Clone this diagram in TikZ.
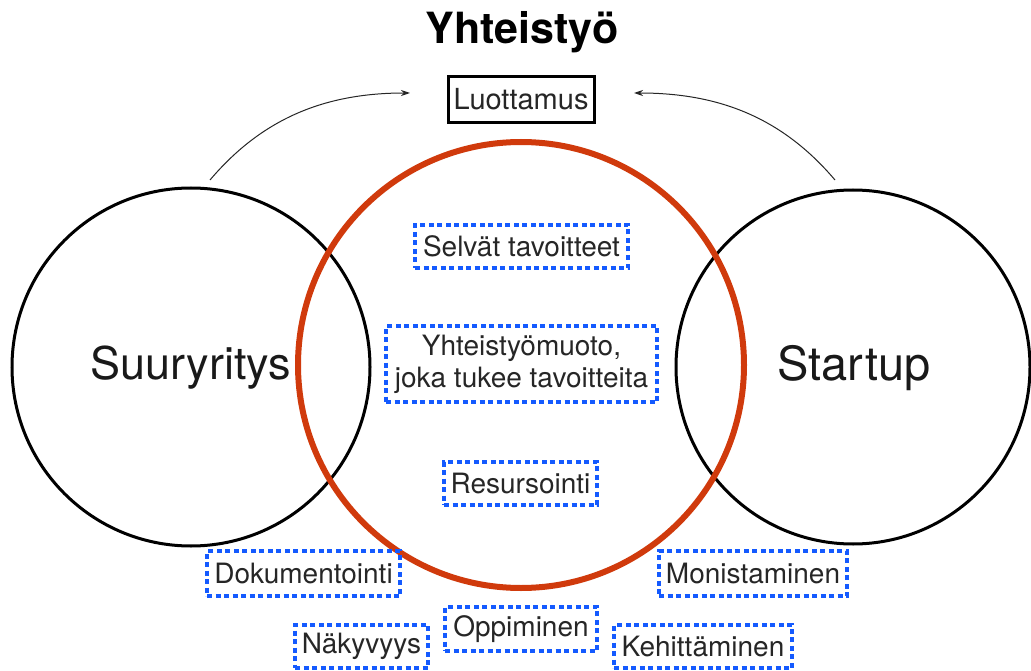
\documentclass[tikz,border=0pt]{standalone}
\usepackage{fontspec}
\setmainfont{TeX Gyre Heros}
\usetikzlibrary{arrows.meta}
\definecolor{redc}{RGB}{208,58,12}
\definecolor{bluec}{RGB}{20,90,255}
\tikzset{
  tag/.style={draw=bluec, line width=3.3pt, dash pattern=on 5pt off 3.5pt, inner sep=0pt, font=\fontsize{28}{32}\selectfont, align=center, text=black!85},
  bigc/.style={draw=black, line width=3pt, circle, inner sep=0pt},
  curvearrow/.style={-{Stealth[length=9pt,width=6pt]}, line width=1pt, black!85}
}
\begin{document}
\begin{tikzpicture}[x=1pt,y=-1pt]
\useasboundingbox (0,0) rectangle (1031,671);
% circles
\node[bigc, minimum size=358pt] (suur) at (191,367) {};
\node[bigc, minimum size=354pt] (start) at (853,367) {};
\node[circle, draw=redc, line width=6pt, inner sep=0pt, minimum size=446pt] (yht) at (521,365) {};
\node[font=\fontsize{45}{50}\selectfont, text=black!90] (suurl) at (191,368) {Suuryritys};
\node[font=\fontsize{47}{50}\selectfont, text=black!90] (startl) at (854,368) {Startup};
% title
\node[font=\fontsize{43}{48}\selectfont\bfseries] (title) at (522,32) {Yhteistyö};
\node[draw=black, line width=3pt, minimum width=146pt, minimum height=46pt, inner sep=0pt, font=\fontsize{29}{31}\selectfont, text=black!85] (luot) at (521,99.5) {Luottamus};
% tags
\node[tag, minimum width=213pt, minimum height=43pt] (selv) at (521.5,246.5) {Selvät tavoitteet};
\node[tag, minimum width=271pt, minimum height=76pt] (muoto) at (521.5,364) {Yhteistyömuoto,\\joka tukee tavoitteita};
\node[tag, minimum width=153pt, minimum height=43pt] (res) at (520.5,483.5) {Resursointi};
\node[tag, minimum width=193pt, minimum height=45pt] (dok) at (303.5,573.5) {Dokumentointi};
\node[tag, minimum width=188pt, minimum height=45pt] (mon) at (753,573.5) {Monistaminen};
\node[tag, minimum width=152pt, minimum height=44pt] (opp) at (521,629) {Oppiminen};
\node[tag, minimum width=133pt, minimum height=43pt] (nak) at (361.5,646.5) {Näkyvyys};
\node[tag, minimum width=178pt, minimum height=43pt] (keh) at (703,646.5) {Kehittäminen};
% arrows
\coordinate (a1s) at (210,180);
\coordinate (a1e) at (410,93);
\coordinate (a2s) at (835,180);
\coordinate (a2e) at (634,93);
\draw[curvearrow] (a1s) .. controls (265,115) and (330,93) .. (a1e);
\draw[curvearrow] (a2s) .. controls (780,115) and (715,93) .. (a2e);
\end{tikzpicture}
\end{document}
